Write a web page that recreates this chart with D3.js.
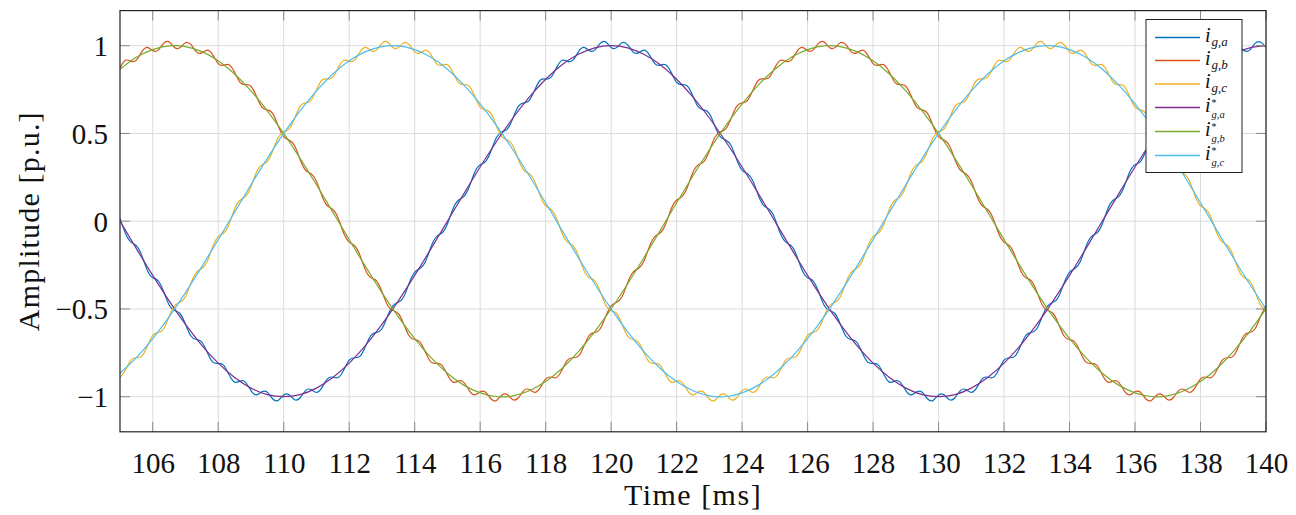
<!DOCTYPE html>
<html>
<head>
<meta charset="utf-8">
<script src="https://cdn.jsdelivr.net/npm/d3@7"></script>
<style>
  html, body { margin: 0; padding: 0; background: #fff; }
  svg { display: block; }
</style>
</head>
<body>
<svg id="chart" width="1296" height="515"></svg>
<script>
// ---------------- DATA ----------------
const xTicks = [106,108,110,112,114,116,118,120,122,124,126,128,130,132,134,136,138,140];
const yTicks = [-1, -0.5, 0, 0.5, 1];
const yTickLabels = ["\u22121", "\u22120.5", "0", "0.5", "1"];
const xDomain = [105, 140];
const yDomain = [-1.2, 1.2];

// measured currents, sampled every 1/6 ms from 105 ms
const measStart = 105, measStep = 1/6;
const iGa = [
 0.016,-0.069,-0.119,-0.140,-0.196,-0.279,-0.322,-0.340,-0.401,-0.477,-0.509,-0.526,-0.587,-0.654,-0.674,-0.689,-0.748,-0.803,-0.810,-0.821,
 -0.875,-0.917,-0.911,-0.918,-0.965,-0.990,-0.972,-0.975,-1.013,-1.021,-0.990,-0.989,-1.017,-1.006,-0.965,-0.959,-0.975,-0.948,-0.898,-0.889,
 -0.891,-0.848,-0.791,-0.778,-0.769,-0.712,-0.650,-0.634,-0.613,-0.543,-0.482,-0.462,-0.430,-0.352,-0.291,-0.270,-0.228,-0.145,-0.088,-0.067,
 -0.016,0.069,0.119,0.140,0.196,0.279,0.322,0.340,0.401,0.477,0.509,0.526,0.587,0.654,0.674,0.689,0.748,0.803,0.810,0.821,
 0.875,0.917,0.911,0.918,0.965,0.990,0.972,0.975,1.013,1.021,0.990,0.989,1.017,1.006,0.965,0.959,0.975,0.948,0.898,0.889,
 0.891,0.848,0.791,0.778,0.769,0.712,0.650,0.634,0.613,0.543,0.482,0.462,0.430,0.352,0.291,0.270,0.228,0.145,0.088,0.067,
 0.016,-0.069,-0.119,-0.140,-0.196,-0.279,-0.322,-0.340,-0.401,-0.477,-0.509,-0.526,-0.587,-0.654,-0.674,-0.689,-0.748,-0.803,-0.810,-0.821,
 -0.875,-0.917,-0.911,-0.918,-0.965,-0.990,-0.972,-0.975,-1.013,-1.021,-0.990,-0.989,-1.017,-1.006,-0.965,-0.959,-0.975,-0.948,-0.898,-0.889,
 -0.891,-0.848,-0.791,-0.778,-0.769,-0.712,-0.650,-0.634,-0.613,-0.543,-0.482,-0.462,-0.430,-0.352,-0.291,-0.270,-0.228,-0.145,-0.088,-0.067,
 -0.016,0.069,0.119,0.140,0.196,0.279,0.322,0.340,0.401,0.477,0.509,0.526,0.587,0.654,0.674,0.689,0.748,0.803,0.810,0.821,
 0.875,0.917,0.911,0.918,0.965,0.990,0.972,0.975,1.013,1.021,0.990
];
const iGb = [
 0.875,0.917,0.911,0.918,0.965,0.990,0.972,0.975,1.013,1.021,0.990,0.989,1.017,1.006,0.965,0.959,0.975,0.948,0.898,0.889,
 0.891,0.848,0.791,0.778,0.769,0.712,0.650,0.634,0.613,0.543,0.482,0.462,0.430,0.352,0.291,0.270,0.228,0.145,0.088,0.067,
 0.016,-0.069,-0.119,-0.140,-0.196,-0.279,-0.322,-0.340,-0.401,-0.477,-0.509,-0.526,-0.587,-0.654,-0.674,-0.689,-0.748,-0.803,-0.810,-0.821,
 -0.875,-0.917,-0.911,-0.918,-0.965,-0.990,-0.972,-0.975,-1.013,-1.021,-0.990,-0.989,-1.017,-1.006,-0.965,-0.959,-0.975,-0.948,-0.898,-0.889,
 -0.891,-0.848,-0.791,-0.778,-0.769,-0.712,-0.650,-0.634,-0.613,-0.543,-0.482,-0.462,-0.430,-0.352,-0.291,-0.270,-0.228,-0.145,-0.088,-0.067,
 -0.016,0.069,0.119,0.140,0.196,0.279,0.322,0.340,0.401,0.477,0.509,0.526,0.587,0.654,0.674,0.689,0.748,0.803,0.810,0.821,
 0.875,0.917,0.911,0.918,0.965,0.990,0.972,0.975,1.013,1.021,0.990,0.989,1.017,1.006,0.965,0.959,0.975,0.948,0.898,0.889,
 0.891,0.848,0.791,0.778,0.769,0.712,0.650,0.634,0.613,0.543,0.482,0.462,0.430,0.352,0.291,0.270,0.228,0.145,0.088,0.067,
 0.016,-0.069,-0.119,-0.140,-0.196,-0.279,-0.322,-0.340,-0.401,-0.477,-0.509,-0.526,-0.587,-0.654,-0.674,-0.689,-0.748,-0.803,-0.810,-0.821,
 -0.875,-0.917,-0.911,-0.918,-0.965,-0.990,-0.972,-0.975,-1.013,-1.021,-0.990,-0.989,-1.017,-1.006,-0.965,-0.959,-0.975,-0.948,-0.898,-0.889,
 -0.891,-0.848,-0.791,-0.778,-0.769,-0.712,-0.650,-0.634,-0.613,-0.543,-0.482
];
const iGc = [
 -0.891,-0.848,-0.791,-0.778,-0.769,-0.712,-0.650,-0.634,-0.613,-0.543,-0.482,-0.462,-0.430,-0.352,-0.291,-0.270,-0.228,-0.145,-0.088,-0.067,
 -0.016,0.069,0.119,0.140,0.196,0.279,0.322,0.340,0.401,0.477,0.509,0.526,0.587,0.654,0.674,0.689,0.748,0.803,0.810,0.821,
 0.875,0.917,0.911,0.918,0.965,0.990,0.972,0.975,1.013,1.021,0.990,0.989,1.017,1.006,0.965,0.959,0.975,0.948,0.898,0.889,
 0.891,0.848,0.791,0.778,0.769,0.712,0.650,0.634,0.613,0.543,0.482,0.462,0.430,0.352,0.291,0.270,0.228,0.145,0.088,0.067,
 0.016,-0.069,-0.119,-0.140,-0.196,-0.279,-0.322,-0.340,-0.401,-0.477,-0.509,-0.526,-0.587,-0.654,-0.674,-0.689,-0.748,-0.803,-0.810,-0.821,
 -0.875,-0.917,-0.911,-0.918,-0.965,-0.990,-0.972,-0.975,-1.013,-1.021,-0.990,-0.989,-1.017,-1.006,-0.965,-0.959,-0.975,-0.948,-0.898,-0.889,
 -0.891,-0.848,-0.791,-0.778,-0.769,-0.712,-0.650,-0.634,-0.613,-0.543,-0.482,-0.462,-0.430,-0.352,-0.291,-0.270,-0.228,-0.145,-0.088,-0.067,
 -0.016,0.069,0.119,0.140,0.196,0.279,0.322,0.340,0.401,0.477,0.509,0.526,0.587,0.654,0.674,0.689,0.748,0.803,0.810,0.821,
 0.875,0.917,0.911,0.918,0.965,0.990,0.972,0.975,1.013,1.021,0.990,0.989,1.017,1.006,0.965,0.959,0.975,0.948,0.898,0.889,
 0.891,0.848,0.791,0.778,0.769,0.712,0.650,0.634,0.613,0.543,0.482,0.462,0.430,0.352,0.291,0.270,0.228,0.145,0.088,0.067,
 0.016,-0.069,-0.119,-0.140,-0.196,-0.279,-0.322,-0.340,-0.401,-0.477,-0.509
];

// reference currents, sampled every 0.5 ms from 105 ms
const refStart = 105, refStep = 0.5;
const iGaRef = [
 0,-0.156,-0.309,-0.454,-0.588,-0.707,-0.809,-0.891,-0.951,-0.988,-1,-0.988,-0.951,-0.891,-0.809,-0.707,-0.588,-0.454,-0.309,-0.156,
 0,0.156,0.309,0.454,0.588,0.707,0.809,0.891,0.951,0.988,1,0.988,0.951,0.891,0.809,0.707,0.588,0.454,0.309,0.156,
 0,-0.156,-0.309,-0.454,-0.588,-0.707,-0.809,-0.891,-0.951,-0.988,-1,-0.988,-0.951,-0.891,-0.809,-0.707,-0.588,-0.454,-0.309,-0.156,
 0,0.156,0.309,0.454,0.588,0.707,0.809,0.891,0.951,0.988,1
];
const iGbRef = [
 0.866,0.934,0.978,0.999,0.995,0.966,0.914,0.839,0.743,0.629,0.5,0.358,0.208,0.052,-0.105,-0.259,-0.407,-0.545,-0.669,-0.777,
 -0.866,-0.934,-0.978,-0.999,-0.995,-0.966,-0.914,-0.839,-0.743,-0.629,-0.5,-0.358,-0.208,-0.052,0.105,0.259,0.407,0.545,0.669,0.777,
 0.866,0.934,0.978,0.999,0.995,0.966,0.914,0.839,0.743,0.629,0.5,0.358,0.208,0.052,-0.105,-0.259,-0.407,-0.545,-0.669,-0.777,
 -0.866,-0.934,-0.978,-0.999,-0.995,-0.966,-0.914,-0.839,-0.743,-0.629,-0.5
];
const iGcRef = [
 -0.866,-0.777,-0.669,-0.545,-0.407,-0.259,-0.105,0.052,0.208,0.358,0.5,0.629,0.743,0.839,0.914,0.966,0.995,0.999,0.978,0.934,
 0.866,0.777,0.669,0.545,0.407,0.259,0.105,-0.052,-0.208,-0.358,-0.5,-0.629,-0.743,-0.839,-0.914,-0.966,-0.995,-0.999,-0.978,-0.934,
 -0.866,-0.777,-0.669,-0.545,-0.407,-0.259,-0.105,0.052,0.208,0.358,0.5,0.629,0.743,0.839,0.914,0.966,0.995,0.999,0.978,0.934,
 0.866,0.777,0.669,0.545,0.407,0.259,0.105,-0.052,-0.208,-0.358,-0.5
];

const seriesNames = ["g,a", "g,b", "g,c", "g,a", "g,b", "g,c"];
const seriesStar = [false, false, false, true, true, true];
const seriesColors = ["#0072BD", "#D95319", "#EDB120", "#7E2F8E", "#77AC30", "#4DBEEE"];

// ---------------- CHART ----------------
const svg = d3.select("#chart");
const L = 120, R = 1266, T = 10.6, B = 431.8;
const x = d3.scaleLinear().domain(xDomain).range([L, R]);
const y = d3.scaleLinear().domain(yDomain).range([B, T]);
const serif = "'Liberation Serif', 'Times New Roman', serif";
const ink = "#111";

// grid
const grid = svg.append("g");
grid.selectAll("line.gx").data(xTicks).join("line")
  .attr("x1", d => x(d)).attr("x2", d => x(d)).attr("y1", T).attr("y2", B)
  .attr("stroke", "#dcdcdc").attr("stroke-width", 1);
grid.selectAll("line.gy").data(yTicks).join("line")
  .attr("x1", L).attr("x2", R).attr("y1", d => y(d)).attr("y2", d => y(d))
  .attr("stroke", "#dcdcdc").attr("stroke-width", 1);

// clip
svg.append("clipPath").attr("id", "clip").append("rect")
  .attr("x", L).attr("y", T).attr("width", R - L).attr("height", B - T);

const series = [
  { vals: iGa, start: measStart, step: measStep },
  { vals: iGb, start: measStart, step: measStep },
  { vals: iGc, start: measStart, step: measStep },
  { vals: iGaRef, start: refStart, step: refStep },
  { vals: iGbRef, start: refStart, step: refStep },
  { vals: iGcRef, start: refStart, step: refStep }
];

const line = d3.line()
  .x(d => x(d[0])).y(d => y(d[1]))
  .curve(d3.curveNatural);

const plot = svg.append("g").attr("clip-path", "url(#clip)");
series.forEach((s, i) => {
  const pts = s.vals.map((v, k) => [s.start + k * s.step, v]);
  plot.append("path").datum(pts)
    .attr("d", line)
    .attr("fill", "none")
    .attr("stroke", seriesColors[i])
    .attr("stroke-width", 1.2)
    .attr("stroke-linejoin", "round");
});

// inner ticks on all four sides
const tk = svg.append("g").attr("stroke", "#8a8a8a").attr("stroke-width", 1);
xTicks.forEach(t => {
  tk.append("line").attr("x1", x(t)).attr("x2", x(t)).attr("y1", B).attr("y2", B - 10);
  tk.append("line").attr("x1", x(t)).attr("x2", x(t)).attr("y1", T).attr("y2", T + 10);
});
yTicks.forEach(t => {
  tk.append("line").attr("x1", L).attr("x2", L + 10).attr("y1", y(t)).attr("y2", y(t));
  tk.append("line").attr("x1", R).attr("x2", R - 10).attr("y1", y(t)).attr("y2", y(t));
});

// frame
svg.append("rect").attr("x", L).attr("y", T).attr("width", R - L).attr("height", B - T)
  .attr("fill", "none").attr("stroke", "#222").attr("stroke-width", 1.2);

// axes labels via d3 axes
const xAxis = d3.axisBottom(x).tickValues(xTicks).tickSize(0).tickPadding(20.5)
  .tickFormat(d3.format("d"));
const gx = svg.append("g").attr("transform", `translate(0,${B})`).call(xAxis);
gx.select(".domain").remove();
gx.selectAll("text").attr("font-family", serif).attr("font-size", 29).attr("fill", ink);

const yAxis = d3.axisLeft(y).tickValues(yTicks).tickSize(0).tickPadding(12)
  .tickFormat((d, i) => yTickLabels[i]);
const gy = svg.append("g").attr("transform", `translate(${L},0)`).call(yAxis);
gy.select(".domain").remove();
gy.selectAll("text").attr("font-family", serif).attr("font-size", 29).attr("fill", ink)
  .attr("dy", "0.34em");

// axis titles
svg.append("text").attr("x", (L + R) / 2).attr("y", 505).attr("text-anchor", "middle")
  .attr("font-family", serif).attr("font-size", 30).attr("letter-spacing", 1.5)
  .attr("fill", ink).text("Time [ms]");
svg.append("text").attr("transform", `translate(39,${(T + B) / 2}) rotate(-90)`)
  .attr("text-anchor", "middle")
  .attr("font-family", serif).attr("font-size", 30).attr("letter-spacing", 1.2)
  .attr("fill", ink).text("Amplitude [p.u.]");

// legend
const lg = svg.append("g");
lg.append("rect").attr("x", 1146).attr("y", 19.5).attr("width", 96).attr("height", 153)
  .attr("fill", "#fff").attr("stroke", "#222").attr("stroke-width", 1);
const rowY = [37.5, 60.5, 84, 107.5, 131.5, 155.5];
seriesNames.forEach((nm, i) => {
  const yy = rowY[i];
  lg.append("line").attr("x1", 1155).attr("x2", 1200).attr("y1", yy).attr("y2", yy)
    .attr("stroke", seriesColors[i]).attr("stroke-width", 1.5);
  lg.append("text").attr("x", 1205).attr("y", yy + 4)
    .attr("font-family", serif).attr("font-style", "italic").attr("font-size", 20)
    .attr("fill", ink).text("i");
  if (seriesStar[i]) {
    lg.append("text").attr("x", 1211.5).attr("y", yy - 1.7)
      .attr("font-family", serif).attr("font-size", 10).attr("fill", ink).text("*");
    lg.append("text").attr("x", 1211.5).attr("y", yy + 10.5)
      .attr("font-family", serif).attr("font-style", "italic").attr("font-size", 10.5)
      .attr("fill", ink).text(nm);
  } else {
    lg.append("text").attr("x", 1211.5).attr("y", yy + 8)
      .attr("font-family", serif).attr("font-style", "italic").attr("font-size", 13)
      .attr("fill", ink).text(nm);
  }
});
</script>
</body>
</html>
